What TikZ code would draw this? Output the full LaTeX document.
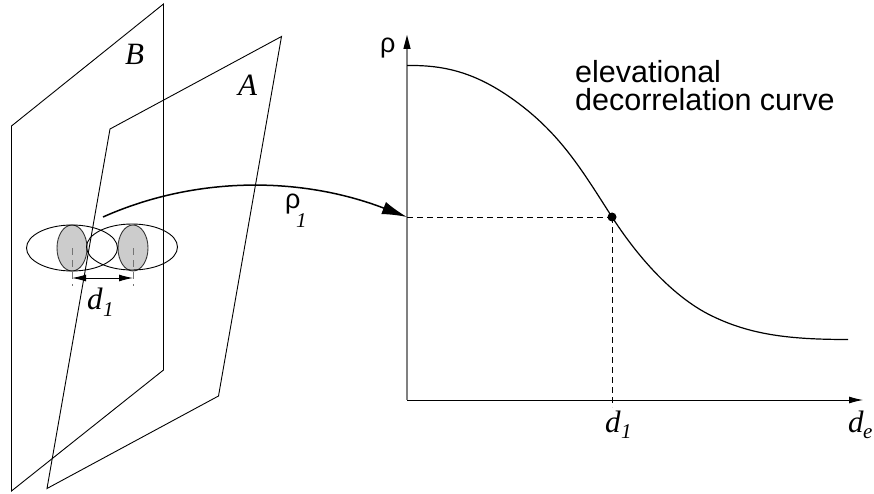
\documentclass[tikz,border=0pt]{standalone}
\usepackage{fontspec}
\setmainfont{Liberation Sans}
\newfontfamily\timesfont{Liberation Serif}
\usetikzlibrary{arrows.meta,shapes.geometric}
\tikzset{
  plane/.style={draw=black,line width=0.9pt,line join=miter},
  curveline/.style={draw=black,line width=1.2pt},
  axisx/.style={draw=black,line width=0.9pt,-{Latex[length=14pt,width=7pt]}},
  axisy/.style={draw=black!50,line width=1.3pt},
  guide/.style={draw=black,line width=0.8pt,dash pattern=on 6pt off 4pt},
  lens/.style={draw=black,line width=0.9pt,ellipse,inner sep=0pt,minimum width=91pt,minimum height=46pt},
  spot/.style={draw=black!80,fill=black!20,line width=0.9pt,ellipse,inner sep=0pt,minimum width=30pt,minimum height=46pt},
  tick/.style={draw=black!55,line width=1pt,dash pattern=on 7pt off 5pt},
  lab/.style={inner sep=0pt,font=\timesfont\itshape\fontsize{31}{31}\selectfont},
  sublab/.style={inner sep=0pt,font=\timesfont\itshape\fontsize{21}{21}\selectfont},
  rhofont/.style={inner sep=0pt,font=\fontsize{27}{27}\selectfont},
  sans/.style={inner sep=0pt,font=\fontsize{30.5}{28.5}\selectfont,align=left}
}
\begin{document}
\begin{tikzpicture}[x=1pt,y=-1pt]
\useasboundingbox (0,0) rectangle (874,494);
% planes
\draw[plane] (11.5,126) -- (163.5,4) -- (163.5,370) -- (11.5,491) -- cycle;
\draw[plane] (110,129) -- (281.5,36.5) -- (218.5,396) -- (47,488.5) -- cycle;
\node[lab,anchor=base west] (labB) at (125,65) {B};
\node[lab,anchor=base west] (labA) at (238,96) {A};
% beam
\node[spot] (s1) at (72,248) {};
\node[spot] (s2) at (133,248) {};
\node[lens] (e1) at (72,248) {};
\node[lens] (e2) at (132,247) {};
\coordinate (t1) at (72,286);
\coordinate (t2) at (133,286);
\draw[tick] (s1.center) -- (t1);
\draw[tick] (s2.center) -- (t2);
\coordinate (a1) at (72,278);
\coordinate (a2) at (133,278);
\draw[draw=black,line width=1pt,{Latex[length=14pt,width=7pt]}-{Latex[length=14pt,width=7pt]}] (a1) -- (a2);
\node[lab,anchor=base west] (dA) at (87,309) {d};
\node[sublab,anchor=base west] at (103,316) {1};
% axes
\coordinate (O) at (407,400);
\coordinate (ytop) at (407,49);
\coordinate (xend) at (863,400);
\draw[axisy] (O) -- (ytop);
\fill[black] (407,35) -- (410.7,49) -- (403.3,49) -- cycle;
\draw[axisx] (O) -- (xend);
\node[rhofont,anchor=base west] (rho) at (380,53) {ρ};
% curve
\node[circle,fill=black,inner sep=0pt,minimum size=9pt] (pt) at (612,217) {};
\coordinate (c0) at (407,65.5);
\coordinate (c1) at (527,110);
\coordinate (c3) at (710,315);
\coordinate (c4) at (848,339.5);
\draw[curveline] (c0) .. controls (445,65) and (480,72) .. (c1)
  .. controls (565,141) and (585,175) .. (pt.center)
  .. controls (645,268) and (680,300) .. (c3)
  .. controls (750,335) and (790,339.5) .. (c4);
% guides
\coordinate (yhit) at (407,217);
\coordinate (xhit) at (612,407);
\draw[guide] (yhit) -- (pt.center);
\draw[guide] (pt.center) -- (xhit);
% transfer arrow
\coordinate (from) at (103,217);
\draw[draw=black,line width=1.5pt,-{Latex[length=25pt,width=13pt]}] (from) .. controls (195,176) and (300,176) .. (yhit);
\node[rhofont,anchor=base west] (rhoB) at (285,209) {ρ};
\node[sublab,anchor=base west] at (296,227) {1};
% labels
\node[sans,anchor=base west] (title) at (575,111) {elevational\\decorrelation curve};
\node[lab,anchor=base west] (dB) at (605,432) {d};
\node[sublab,anchor=base west] at (621,438) {1};
\node[lab,anchor=base west] (dC) at (848,432) {d};
\node[sublab,anchor=base west] at (863,438) {e};
\end{tikzpicture}
\end{document}
